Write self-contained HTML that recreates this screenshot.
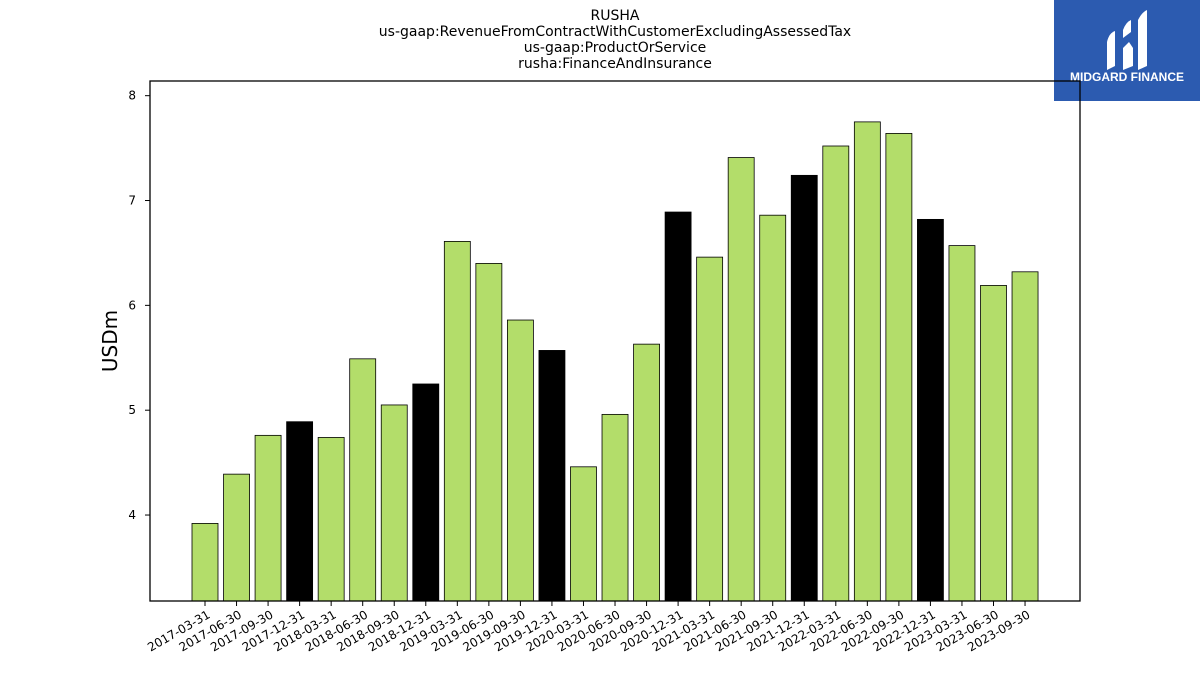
<!DOCTYPE html>
<html><head><meta charset="utf-8"><style>
body{margin:0;width:1200px;height:675px;background:#fff;overflow:hidden}
svg{font-family:"DejaVu Sans","Liberation Sans",sans-serif}
</style></head><body>
<svg id="chart" width="1200" height="675" viewBox="0 0 1200 675">
<g font-size="14" text-anchor="middle" fill="#000">
<text x="615" y="20">RUSHA</text>
<text x="615" y="36">us-gaap:RevenueFromContractWithCustomerExcludingAssessedTax</text>
<text x="615" y="52">us-gaap:ProductOrService</text>
<text x="615" y="68">rusha:FinanceAndInsurance</text>
</g>
<g>
<rect x="1054" y="0" width="146" height="101" fill="#2c5bb0"/>
<path d="M1107 70 L1107 42 Q1109 33 1115 31 L1115 66 Z" fill="#fff"/>
<path d="M1123 70 L1123 48 L1129 42 L1133 48 L1133 66 Z" fill="#fff"/>
<path d="M1123 38 L1123 30 Q1126 22 1131 20 L1131 32 Z" fill="#fff"/>
<path d="M1138 70 L1138 20 Q1142 12 1147 10 L1147 66 Z" fill="#fff"/>
<text x="1127" y="81" font-size="12" font-weight="bold" fill="#fff" text-anchor="middle" font-family="Liberation Sans, sans-serif">MIDGARD FINANCE</text>
</g>
<text x="117" y="341" font-size="20" text-anchor="middle" transform="rotate(-90 117 341)">USDm</text>
<g id="bars"></g>
<g id="axes"></g>
<rect x="150" y="81" width="930" height="520" fill="none" stroke="#000" stroke-width="1.3"/>
</svg>
<script>
const categories=["2017-03-31","2017-06-30","2017-09-30","2017-12-31","2018-03-31","2018-06-30","2018-09-30","2018-12-31","2019-03-31","2019-06-30","2019-09-30","2019-12-31","2020-03-31","2020-06-30","2020-09-30","2020-12-31","2021-03-31","2021-06-30","2021-09-30","2021-12-31","2022-03-31","2022-06-30","2022-09-30","2022-12-31","2023-03-31","2023-06-30","2023-09-30"];
const values=[3.92,4.39,4.76,4.89,4.74,5.49,5.05,5.25,6.61,6.40,5.86,5.57,4.46,4.96,5.63,6.89,6.46,7.41,6.86,7.24,7.52,7.75,7.64,6.82,6.57,6.19,6.32];
const yTicks=[4,5,6,7,8];
const yMin=3.18, yMax=8.14;
const NS="http://www.w3.org/2000/svg";
const px0=150,px1=1080,py0=81,py1=601;
function y(v){return py1-(v-yMin)/(yMax-yMin)*(py1-py0);}
const step=(px1-px0)/(categories.length+2.48);
function x(i){return 205+i*31.54;}
const bars=document.getElementById('bars'),axes=document.getElementById('axes');
values.forEach((v,i)=>{
 const r=document.createElementNS(NS,'rect');
 
 
 r.setAttribute('x',x(i)-13);r.setAttribute('width',26);
 r.setAttribute('y',y(v));r.setAttribute('height',py1-y(v));
 r.setAttribute('fill',categories[i].endsWith('12-31')?'#000':'#b3dd6a');
 r.setAttribute('stroke','#000');r.setAttribute('stroke-width','0.8');
 bars.appendChild(r);
 const t=document.createElementNS(NS,'line');
 
 
 t.setAttribute('x1',x(i));t.setAttribute('x2',x(i));t.setAttribute('y1',py1);t.setAttribute('y2',py1+5);t.setAttribute('stroke','#000');
 axes.appendChild(t);
 const l=document.createElementNS(NS,'text');
 
 
 l.setAttribute('x',x(i)+6);l.setAttribute('y',py1+16);l.setAttribute('font-size','12');l.setAttribute('text-anchor','end');
 l.setAttribute('transform','rotate(-30 '+(x(i)+6)+' '+(py1+16)+')');
 l.textContent=categories[i];axes.appendChild(l);
});
yTicks.forEach(v=>{
 const t=document.createElementNS(NS,'line');
 
 
 t.setAttribute('x1',px0-5);t.setAttribute('x2',px0);t.setAttribute('y1',y(v));t.setAttribute('y2',y(v));t.setAttribute('stroke','#000');
 axes.appendChild(t);
 const l=document.createElementNS(NS,'text');
 
 
 l.setAttribute('x',px0-14);l.setAttribute('y',y(v)+4);l.setAttribute('font-size','12');l.setAttribute('text-anchor','end');
 l.textContent=v;axes.appendChild(l);
});
</script>
</body></html>
